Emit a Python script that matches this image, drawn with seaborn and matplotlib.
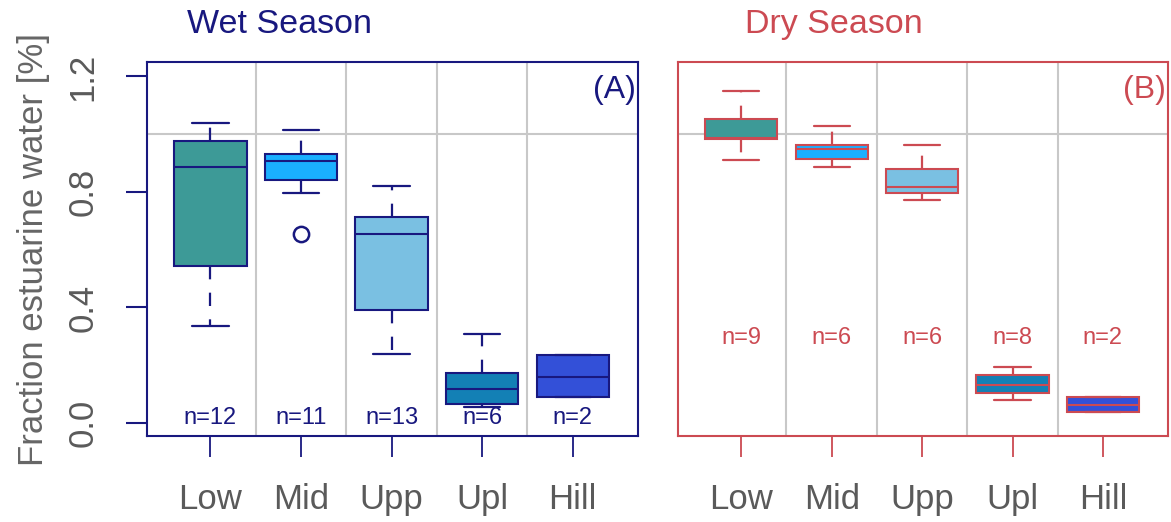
import numpy as np
import pandas as pd
import matplotlib
matplotlib.use("Agg")
import matplotlib.pyplot as plt
import seaborn as sns

# ---------------- data ----------------
categories = ["Low", "Mid", "Upp", "Upl", "Hill"]

# five-number summaries: lower whisker, Q1, median, Q3, upper whisker
wet_whisker_low = [0.335, 0.795, 0.239, 0.054, 0.090]
wet_q1 = [0.543, 0.843, 0.392, 0.065, 0.090]
wet_median = [0.885, 0.907, 0.656, 0.118, 0.161]
wet_q3 = [0.977, 0.931, 0.714, 0.172, 0.234]
wet_whisker_high = [1.039, 1.016, 0.820, 0.308, 0.234]
wet_n = [12, 11, 13, 6, 2]
wet_outlier_category = ["Mid"]
wet_outlier_value = [0.654]

dry_whisker_low = [0.910, 0.888, 0.771, 0.081, 0.037]
dry_q1 = [0.984, 0.913, 0.798, 0.103, 0.037]
dry_median = [0.988, 0.949, 0.818, 0.130, 0.062]
dry_q3 = [1.054, 0.961, 0.879, 0.165, 0.090]
dry_whisker_high = [1.150, 1.028, 0.963, 0.195, 0.090]
dry_n = [9, 6, 6, 8, 2]

y_ticks = [0.0, 0.4, 0.8, 1.2]
y_tick_labels = ["0.0", "0.4", "0.8", "1.2"]

# ---------------- style ----------------
sns.set_theme(style="white")
plt.rcParams["font.family"] = ["Liberation Sans", "DejaVu Sans"]

fill_colors = ["#3D9A97", "#1AAFFF", "#7AC0E2", "#1380B5", "#3350D8"]
palette = dict(zip(categories, fill_colors))
wet_color = "#18187F"
dry_color = "#CC4A52"
grid_color = "#C8C8C8"
label_gray = "#5A5A5A"


def long_form(lo, q1, med, q3, hi):
    rows = []
    for i, c in enumerate(categories):
        for v in (lo[i], q1[i], med[i], q3[i], hi[i]):
            rows.append({"zone": c, "value": v})
    return pd.DataFrame(rows)


wet_df = long_form(wet_whisker_low, wet_q1, wet_median, wet_q3, wet_whisker_high)
dry_df = long_form(dry_whisker_low, dry_q1, dry_median, dry_q3, dry_whisker_high)

fig = plt.figure(figsize=(11.71, 5.22), dpi=100)
ax_w = fig.add_axes([147 / 1171, 1 - 436 / 522, 491 / 1171, 374 / 522])
ax_d = fig.add_axes([678 / 1171, 1 - 436 / 522, 490 / 1171, 374 / 522])


def draw(ax, df, color, n_values, n_y, letter):
    # grid
    for xv in np.arange(0.5, len(categories) - 0.5, 1.0):
        ax.axvline(xv, color=grid_color, lw=1.5, zorder=0)
    ax.axhline(1.0, color=grid_color, lw=1.5, zorder=0)

    sns.boxplot(
        data=df, x="zone", y="value", hue="zone", order=categories,
        hue_order=categories, palette=palette, saturation=1, legend=False,
        whis=(0, 100), width=0.8, linecolor=color, linewidth=1.5,
        showfliers=False, ax=ax,
        whiskerprops=dict(linestyle=(0, (6, 6)), linewidth=1.6),
        capprops=dict(linewidth=1.6),
        medianprops=dict(linewidth=1.5, color=color),
        zorder=2,
    )

    for i, n in enumerate(n_values):
        ax.text(i, n_y, f"n={n}", ha="center", va="center", fontsize=17,
                color=color, zorder=3)
    ax.text(0.995, 0.925, letter, transform=ax.transAxes, ha="right",
            va="center", fontsize=23, color=color)

    ax.set_xlim(-0.70, 4.72)
    ax.set_ylim(-0.045, 1.25)
    ax.set_xlabel("")
    ax.set_ylabel("")
    for sp in ax.spines.values():
        sp.set_visible(True)
        sp.set_color(color)
        sp.set_linewidth(1.5)
    ax.set_xticks(range(len(categories)))
    ax.set_xticklabels(categories)
    ax.tick_params(axis="x", direction="out", length=15, width=1.3,
                   color=color, pad=19, labelsize=25, labelcolor=label_gray,
                   bottom=True)


draw(ax_w, wet_df, wet_color, wet_n, 0.016, "(A)")
ax_w.plot([categories.index(c) for c in wet_outlier_category], wet_outlier_value,
          marker="o", ms=11, mfc="none", mec=wet_color, mew=1.8, ls="none",
          zorder=3)
draw(ax_d, dry_df, dry_color, dry_n, 0.294, "(B)")

ax_w.set_yticks(y_ticks)
ax_w.set_yticklabels(y_tick_labels, rotation=90, va="center")
ax_w.tick_params(axis="y", direction="out", length=15, width=1.5,
                 color=wet_color, pad=19, labelsize=25, labelcolor=label_gray,
                 left=True)
ax_w.set_ylabel("Fraction estuarine water [%]", fontsize=25, color="#666666",
                labelpad=12)
ax_d.set_yticks([])

fig.text(187 / 1171, 1 - 33 / 522, "Wet Season", ha="left", va="baseline",
         fontsize=24.5, color=wet_color)
fig.text(745 / 1171, 1 - 33 / 522, "Dry Season", ha="left", va="baseline",
         fontsize=24.5, color=dry_color)

fig.savefig("out.png", dpi=100)
